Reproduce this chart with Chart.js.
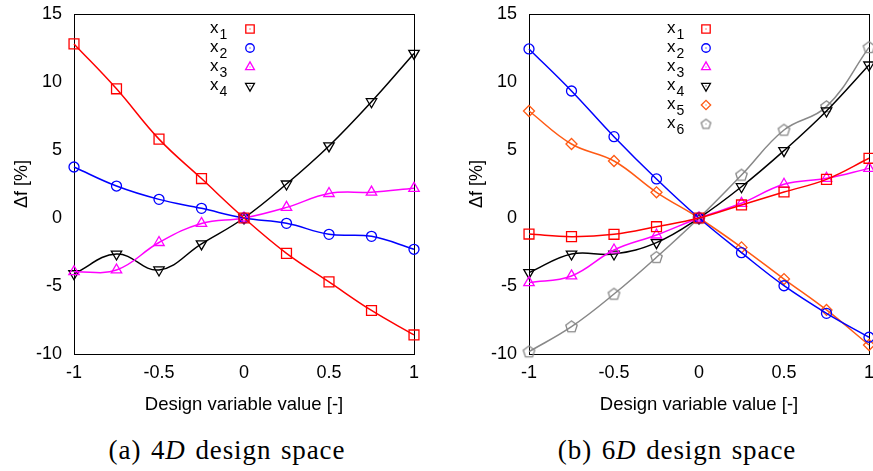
<!DOCTYPE html>
<html>
<head>
<meta charset="utf-8">
<script src="https://cdn.jsdelivr.net/npm/chart.js@4/dist/chart.umd.min.js"></script>
<style>
  body { margin: 0; width: 873px; height: 471px; background: #fff; position: relative; overflow: hidden; }
  canvas { position: absolute; top: 0; }
  #left { left: 0; }
  #right { left: 440px; }
  .caption { position: absolute; top: 435px; line-height: 30px; font-family: "Liberation Serif", "DejaVu Serif", serif; font-size: 27px; letter-spacing: 0.9px; word-spacing: 2px; color: #000; white-space: nowrap; transform: translateX(-50%); }
</style>
</head>
<body>
<canvas id="left" width="440" height="420"></canvas>
<canvas id="right" width="445" height="420"></canvas>
<div class="caption" style="left:227px">(a) 4<i>D</i> design space</div>
<div class="caption" style="left:677px">(b) 6<i>D</i> design space</div>
<script>
// design variable values (x axis)
const xValues = [-1, -0.75, -0.5, -0.25, 0, 0.25, 0.5, 0.75, 1];
const xTicks = [-1, -0.5, 0, 0.5, 1];
const yTicks = [-10, -5, 0, 5, 10, 15];

// (a) 4D design space
const a_x1 = [12.8, 9.5, 5.8, 2.9, 0, -2.6, -4.7, -6.8, -8.6];
const a_x2 = [3.75, 2.35, 1.37, 0.71, 0, -0.39, -1.2, -1.35, -2.3];
const a_x3 = [-3.95, -3.82, -1.8, -0.4, 0, 0.78, 1.8, 1.9, 2.18];
const a_x4 = [-4.1, -2.65, -3.82, -1.9, 0, 2.5, 5.3, 8.55, 12.1];

// (b) 6D design space
const b_x1 = [-1.18, -1.37, -1.2, -0.64, 0, 0.96, 1.91, 2.84, 4.39];
const b_x2 = [12.43, 9.34, 5.98, 2.87, 0, -2.55, -4.98, -7.01, -8.77];
const b_x3 = [-4.75, -4.26, -2.35, -1.25, 0, 1.08, 2.48, 2.92, 3.65];
const b_x4 = [-4.02, -2.65, -2.65, -1.81, 0, 2.3, 4.95, 7.87, 11.25];
const b_x5 = [7.87, 5.44, 4.19, 1.89, 0, -2.16, -4.49, -6.76, -9.34];
const b_x6 = [-9.83, -7.99, -5.59, -2.89, 0, 3.16, 6.47, 8.19, 12.55];

const FONT = "'Liberation Sans', Arial, Helvetica, sans-serif";

// pentagon marker, Chart.js has no built-in one
function pentagon(color, r) {
  const n = Math.ceil(2 * r + 3);
  const c = document.createElement("canvas");
  c.width = n; c.height = n;
  const g = c.getContext("2d");
  g.strokeStyle = color;
  g.lineWidth = 1.3;
  g.beginPath();
  for (let i = 0; i < 5; i++) {
    const a = -Math.PI / 2 + i * 2 * Math.PI / 5;
    const px = n / 2 + r * Math.cos(a), py = n / 2 + 0.3 + r * Math.sin(a);
    if (i === 0) g.moveTo(px, py); else g.lineTo(px, py);
  }
  g.closePath();
  g.stroke();
  return c;
}

const styles = {
  x1: { color: "#ff0000", pointStyle: "rect", radius: 7, rotation: 0 },
  x2: { color: "#0000ff", pointStyle: "circle", radius: 5, rotation: 0 },
  x3: { color: "#ff00ff", pointStyle: "triangle", radius: 6, rotation: 0 },
  x4: { color: "#000000", pointStyle: "triangle", radius: 6, rotation: 180 },
  x5: { color: "#ff5a14", pointStyle: "rectRot", radius: 5.5, rotation: 0 },
  x6: { color: "#888888", pointStyle: pentagon("#888888", 6), radius: 6, rotation: 0 },
};
const keyPentagon = pentagon("#888888", 5);

function makeDataset(name, values) {
  const s = styles[name];
  return {
    label: name,
    data: xValues.map((x, i) => ({ x: x, y: values[i] })),
    borderColor: s.color,
    borderWidth: 1.5,
    pointStyle: s.pointStyle,
    pointRotation: s.rotation,
    pointRadius: s.radius,
    pointBorderColor: s.color,
    pointBackgroundColor: "rgba(0,0,0,0)",
    pointBorderWidth: 1.3,
    tension: 0.4,
    clip: false,
  };
}

// frame round the plot area
const framePlugin = {
  id: "frame",
  beforeDatasetsDraw(chart) {
    const a = chart.chartArea;
    const ctx = chart.ctx;
    ctx.save();
    ctx.strokeStyle = "#000";
    ctx.lineWidth = 1;
    ctx.strokeRect(Math.round(a.left) + 0.5, Math.round(a.top) + 0.5,
      Math.round(a.right - a.left), Math.round(a.bottom - a.top));
    ctx.restore();
  },
};

// gnuplot style key: label on the left, marker on the right
const keyPlugin = {
  id: "key",
  afterDraw(chart, args, opts) {
    const ctx = chart.ctx;
    ctx.save();
    chart.data.datasets.forEach((ds, i) => {
      const y = opts.top + i * 19;
      ctx.fillStyle = "#000";
      ctx.textBaseline = "alphabetic";
      ctx.textAlign = "left";
      ctx.font = "17px " + FONT;
      ctx.fillText("x", opts.textX, y + 4);
      const w = ctx.measureText("x").width;
      ctx.font = "14px " + FONT;
      ctx.fillText(ds.label.slice(1), opts.textX + w + 1, y + 10);
      const s = styles[ds.label];
      if (typeof s.pointStyle === "string") {
        ctx.strokeStyle = s.color;
        ctx.fillStyle = "rgba(0,0,0,0)";
        ctx.lineWidth = 1.3;
        Chart.helpers.drawPoint(ctx, {
          pointStyle: s.pointStyle, rotation: s.rotation,
          radius: s.radius * 0.85, borderWidth: 1.3,
        }, opts.markX, y);
      } else {
        ctx.drawImage(keyPentagon, opts.markX - keyPentagon.width / 2, y - keyPentagon.height / 2);
      }
      ctx.fillStyle = s.color;
      ctx.fillRect(opts.markX - 0.5, y - 0.5, 1, 1);
    });
    ctx.restore();
  },
};

function makeChart(id, datasets, yWidth, padRight, key) {
  return new Chart(document.getElementById(id), {
    type: "line",
    data: { datasets: datasets },
    plugins: [framePlugin, keyPlugin],
    options: {
      responsive: false,
      animation: false,
      devicePixelRatio: 1,
      layout: { padding: { top: 14, right: padRight, left: 0, bottom: 0 } },
      plugins: {
        legend: { display: false },
        tooltip: { enabled: false },
        key: key,
      },
      scales: {
        x: {
          type: "linear",
          min: -1, max: 1,
          grid: { display: false, drawTicks: false },
          border: { display: false },
          afterBuildTicks: (s) => { s.ticks = xTicks.map((v) => ({ value: v })); },
          ticks: {
            padding: 8,
            color: "#000",
            maxRotation: 0,
            font: { family: FONT, size: 18 },
            callback: (v) => String(v),
          },
          title: {
            display: true,
            text: "Design variable value [-]",
            color: "#000",
            padding: 4,
            font: { family: FONT, size: 18.5 },
          },
          afterFit: (s) => {
            s.height = 66;
            s.paddingLeft = 0;
            s.paddingRight = 0;
          },
        },
        y: {
          type: "linear",
          min: -10, max: 15,
          grid: { display: false, drawTicks: false },
          border: { display: false },
          afterBuildTicks: (s) => { s.ticks = yTicks.map((v) => ({ value: v })); },
          ticks: {
            padding: 12,
            color: "#000",
            font: { family: FONT, size: 18 },
            callback: (v) => String(v),
          },
          title: {
            display: true,
            text: "Δf [%]",
            color: "#000",
            padding: yWidth === 74 ? 11 : 26,
            font: { family: FONT, size: 18 },
          },
          afterFit: (s) => {
            s.width = yWidth;
            s.paddingTop = 0;
            s.paddingBottom = 0;
          },
        },
      },
    },
  });
}

makeChart("left", [
  makeDataset("x1", a_x1),
  makeDataset("x2", a_x2),
  makeDataset("x3", a_x3),
  makeDataset("x4", a_x4),
], 74, 26, { textX: 210, markX: 250, top: 29 });

// canvas runs past the page edge, as the reference is cut off on the right
makeChart("right", [
  makeDataset("x1", b_x1),
  makeDataset("x2", b_x2),
  makeDataset("x3", b_x3),
  makeDataset("x4", b_x4),
  makeDataset("x5", b_x5),
  makeDataset("x6", b_x6),
], 89, 16, { textX: 227, markX: 266, top: 29 });
</script>
</body>
</html>
